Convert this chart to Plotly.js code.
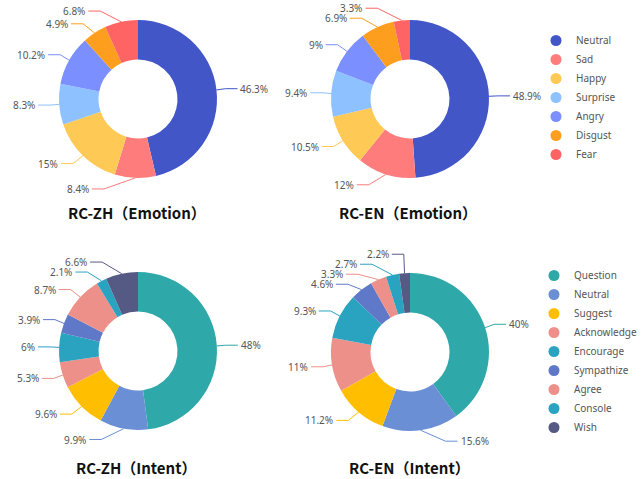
<!DOCTYPE html>
<html>
<head>
<meta charset="utf-8">
<script src="https://cdn.plot.ly/plotly-3.0.1.min.js"></script>
<style>
html,body{margin:0;padding:0;background:#fff;}
#chart{width:642px;height:479px;}
</style>
</head>
<body>
<div id="chart"></div>
<script>
// ---------- data ----------
const emotionLabels = ['Neutral', 'Sad', 'Happy', 'Surprise', 'Angry', 'Disgust', 'Fear'];
const emotionColors = ['#4256c8', '#ff7c7c', '#ffc955', '#8ec1ff', '#7b8ffe', '#fe9e1e', '#ff6464'];
const zhEmotion = [46.3, 8.4, 15, 8.3, 10.2, 4.9, 6.8];
const enEmotion = [48.9, 12, 10.5, 9.4, 9, 6.9, 3.3];

const intentLabels = ['Question', 'Neutral', 'Suggest', 'Acknowledge', 'Encourage', 'Sympathize', 'Agree', 'Console', 'Wish'];
const intentColors = ['#2ea8a8', '#6a8fd5', '#ffbf00', '#ee908a', '#2aa3c0', '#5f79c8', '#ee908a', '#2aa3c0', '#555a85'];
const zhIntent = [48, 9.9, 9.6, 5.3, 6, 3.9, 8.7, 2.1, 6.6];
const enIntent = [40, 15.6, 11.2, 11, 9.3, 4.6, 3.3, 2.7, 2.2];

const chartTitles = ['RC-ZH（Emotion）', 'RC-EN（Emotion）', 'RC-ZH（Intent）', 'RC-EN（Intent）'];

// ---------- geometry / style ----------
const W = 642, H = 479;
const R = 79;                 // outer radius in px
const LEN1 = 11, LEN2 = 12, GAP = 2, LABEL_H = 10;
const R3 = R + LEN1 + LEN2;
const TH = R + 14;            // beyond this vertical distance keep the label's own x
const LABEL_FONT = {family: 'Noto Sans, sans-serif', size: 10, color: '#555'};

const pies = [
  {values: zhEmotion, labels: emotionLabels, colors: emotionColors, title: chartTitles[0], cx: 138, cy: 99, tx: 137, ty: 212},
  {values: enEmotion, labels: emotionLabels, colors: emotionColors, title: chartTitles[1], cx: 410, cy: 99, tx: 408, ty: 212},
  {values: zhIntent, labels: intentLabels, colors: intentColors, title: chartTitles[2], cx: 138, cy: 351, tx: 136, ty: 467},
  {values: enIntent, labels: intentLabels, colors: intentColors, title: chartTitles[3], cx: 410, cy: 352, tx: 409, ty: 467}
];

const px = x => x / W;
const py = y => 1 - y / H;

function spread(list) {
  let blocks = list.map(d => ({items: [d], top: d.y}));
  let changed = true;
  while (changed) {
    changed = false;
    for (let k = 0; k < blocks.length - 1; k++) {
      const a = blocks[k], b = blocks[k + 1];
      if (a.top + a.items.length * LABEL_H > b.top) {
        const items = a.items.concat(b.items);
        const top = items.reduce((s, d, j) => s + d.y - j * LABEL_H, 0) / items.length;
        blocks.splice(k, 2, {items, top});
        changed = true;
        break;
      }
    }
  }
  blocks.forEach(b => b.items.forEach((d, j) => { d.y = b.top + j * LABEL_H; }));
}

function changeX(list, isDown, cx, cy, dir) {
  let last = isDown ? Infinity : 0;
  list.forEach(d => {
    const dyy = Math.abs(d.y - cy);
    let dX = dyy < TH ? Math.sqrt(Math.max(0, R3 * R3 - dyy * dyy)) : Math.abs(d.x - cx);
    if (isDown && dX >= last) dX = last - 10;
    if (!isDown && dX <= last) dX = last + 10;
    d.x = cx + dX * dir;
    last = dX;
  });
}

function layoutLabels(values, cx, cy) {
  const total = values.reduce((a, b) => a + b, 0);
  let cum = 0;
  const items = values.map((v, i) => {
    const a = (cum + v / 2) / total * 2 * Math.PI;
    cum += v;
    const dx = Math.sin(a), dy = -Math.cos(a);
    const dir = dx < 0 ? -1 : 1;
    const x2 = cx + (R + LEN1) * dx, y2 = cy + (R + LEN1) * dy;
    return {i, v, dir, x1: cx + R * dx, y1: cy + R * dy, y: y2, x: x2 + dir * (LEN2 + GAP)};
  });
  [-1, 1].forEach(side => {
    const list = items.filter(d => d.dir === side).sort((a, b) => a.y - b.y);
    spread(list);
    changeX(list.filter(d => d.y < cy), false, cx, cy, side);
    changeX(list.filter(d => d.y >= cy), true, cx, cy, side);
  });
  return items;
}

const traces = [];
const shapes = [];
const annotations = [];

pies.forEach(p => {
  traces.push({
    type: 'pie',
    values: p.values,
    labels: p.labels,
    marker: {colors: p.colors, line: {width: 0}},
    hole: 0.5,
    sort: false,
    direction: 'clockwise',
    rotation: 0,
    textinfo: 'none',
    hoverinfo: 'skip',
    showlegend: false,
    domain: {x: [px(p.cx - R), px(p.cx + R)], y: [py(p.cy + R), py(p.cy - R)]}
  });
  const items = layoutLabels(p.values, p.cx, p.cy);
  items.forEach(d => {
    const ex = d.x - d.dir * GAP;
    const tx = ex - d.dir * LEN2;
    shapes.push({
      type: 'path', xref: 'paper', yref: 'paper',
      path: `M ${px(d.x1)},${py(d.y1)} L ${px(tx)},${py(d.y)} L ${px(ex)},${py(d.y)}`,
      line: {color: p.colors[d.i], width: 1}
    });
    annotations.push({
      xref: 'paper', yref: 'paper', x: px(d.x), y: py(d.y),
      xanchor: d.dir < 0 ? 'right' : 'left', yanchor: 'middle',
      text: d.v + '%', showarrow: false, borderpad: 0, font: LABEL_FONT
    });
  });
  annotations.push({
    xref: 'paper', yref: 'paper', x: px(p.tx), y: py(p.ty),
    xanchor: 'center', yanchor: 'middle', showarrow: false,
    text: '<b>' + p.title + '</b>',
    font: {family: 'Noto Sans CJK SC, sans-serif', size: 15, color: '#111'}
  });
});

emotionLabels.forEach((lab, i) => traces.push({
  type: 'scatter', mode: 'markers', x: [null], y: [null], name: lab,
  marker: {color: emotionColors[i], size: 11}, legend: 'legend', hoverinfo: 'skip'
}));
intentLabels.forEach((lab, i) => traces.push({
  type: 'scatter', mode: 'markers', x: [null], y: [null], name: lab,
  marker: {color: intentColors[i], size: 11}, legend: 'legend2', hoverinfo: 'skip'
}));

const legendStyle = {
  xanchor: 'left', yanchor: 'top', bgcolor: 'rgba(0,0,0,0)', borderwidth: 0,
  font: {family: 'Noto Sans, sans-serif', size: 10, color: '#555'}, traceorder: 'normal'
};

const layout = {
  width: W, height: H,
  margin: {l: 0, r: 0, t: 0, b: 0},
  paper_bgcolor: '#fff', plot_bgcolor: '#fff',
  font: {family: 'Noto Sans, sans-serif'},
  xaxis: {visible: false}, yaxis: {visible: false},
  showlegend: true,
  legend: Object.assign({x: px(536), y: py(26)}, legendStyle),
  legend2: Object.assign({x: px(534), y: py(261)}, legendStyle),
  shapes, annotations
};

Plotly.newPlot('chart', traces, layout, {staticPlot: true, displayModeBar: false});
</script>
</body>
</html>
